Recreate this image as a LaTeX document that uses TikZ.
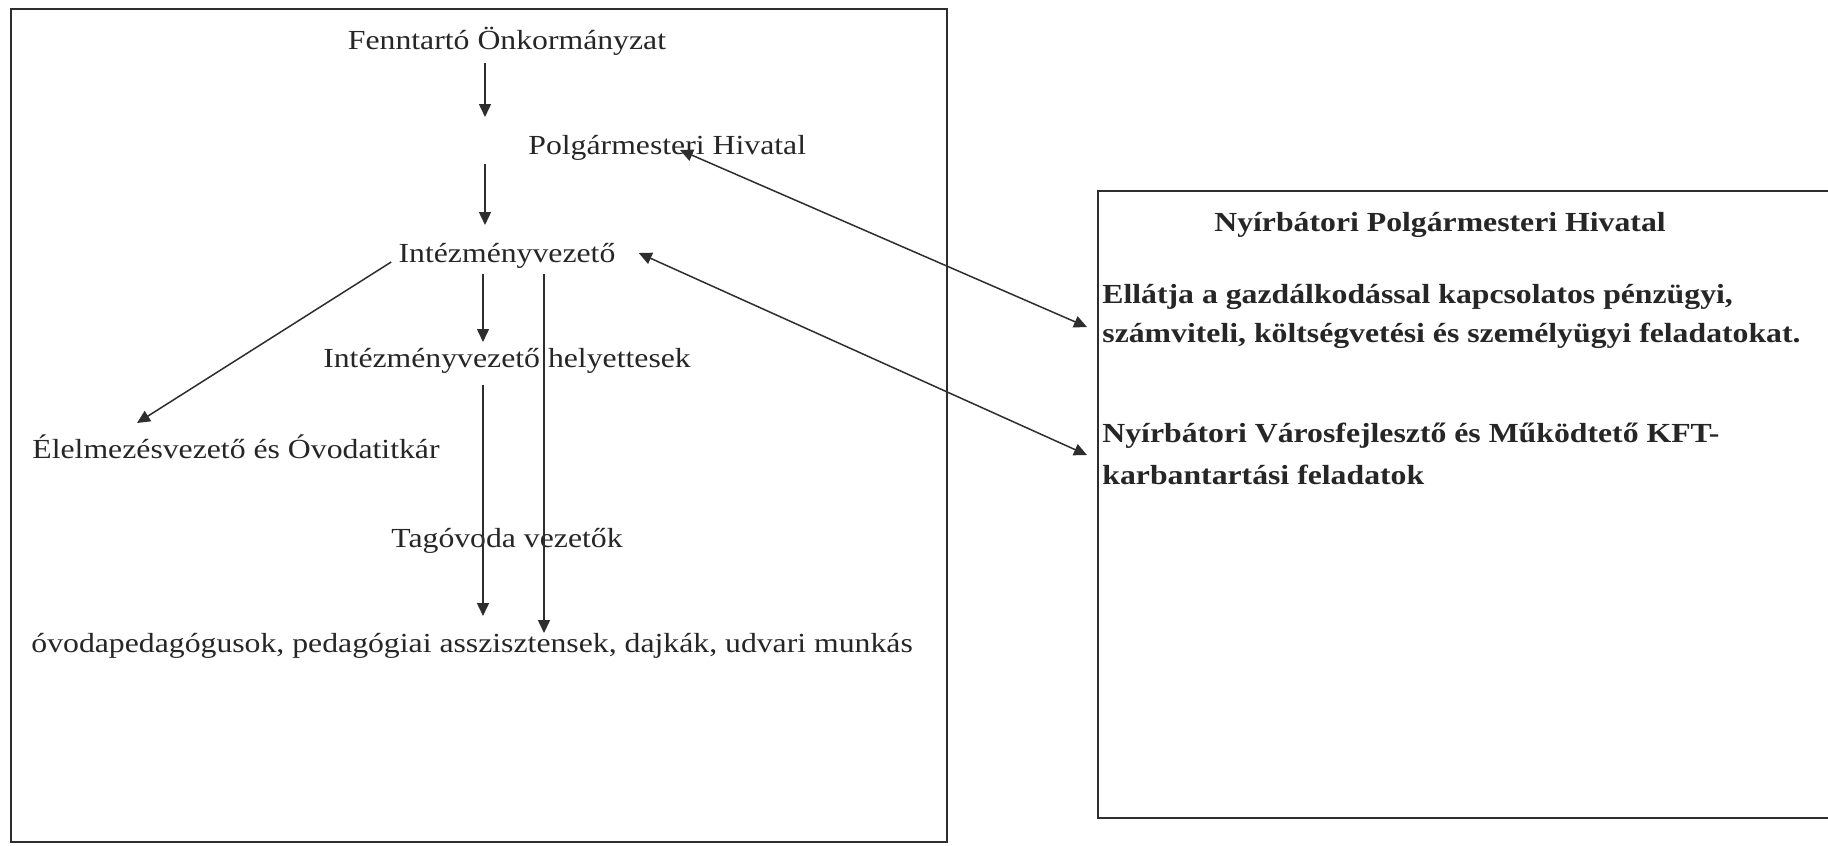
\documentclass[tikz,border=0pt]{standalone}
\usepackage{fontspec}
\setmainfont{Liberation Serif}[FakeStretch=1.15]
\usetikzlibrary{arrows.meta,calc}
\definecolor{ink}{HTML}{262626}
\definecolor{linec}{HTML}{2E2E2E}
\tikzset{
  txt/.style={inner sep=0pt, anchor=base, text=ink, font=\fontsize{13.8}{17}\selectfont},
  txtl/.style={txt, anchor=base west},
  btxt/.style={txtl, font=\fontsize{13.8}{17}\selectfont\bfseries},
  arr/.style={draw=linec, line width=0.75pt, -{Triangle[length=6.5pt,width=6pt]}},
  darr/.style={draw=linec, line width=0.75pt, {Triangle[length=6.5pt,width=6pt]}-{Triangle[length=6.5pt,width=6pt]}},
  boxline/.style={draw=linec, line width=1pt}
}
\begin{document}
\begin{tikzpicture}[x=0.5pt,y=-0.5pt]
\useasboundingbox[fill=white] (0,0) rectangle (1828,846);
% frames
\draw[boxline] (11,9) rectangle (947,842);
\draw[boxline] (1828,191) -- (1098,191) -- (1098,818) -- (1828,818);
% left side nodes
\node[txt] (fenn) at (507,49) {Fenntartó Önkormányzat};
\node[txtl] (polg) at (528,154) {Polgármesteri Hivatal};
\node[txt] (intez) at (507,262) {Intézményvezető};
\node[txt] (helyet) at (507,367) {Intézményvezető helyettesek};
\node[txtl] (elel) at (32,458) {Élelmezésvezető és Óvodatitkár};
\node[txt] (tag) at (507,547) {Tagóvoda vezetők};
\node[txtl] (ovoda) at (31,652) {óvodapedagógusok, pedagógiai asszisztensek, dajkák, udvari munkás};
% right box nodes
\node[txt, font=\fontsize{13.8}{17}\selectfont\bfseries] (title) at (1440,231) {Nyírbátori Polgármesteri Hivatal};
\node[btxt] (l1) at (1102,303) {Ellátja a gazdálkodással kapcsolatos pénzügyi,};
\node[btxt] (l2) at (1102,342) {számviteli, költségvetési és személyügyi feladatokat.};
\node[btxt] (l3) at (1102,442) {Nyírbátori Városfejlesztő és Működtető KFT-};
\node[btxt] (l4) at (1102,484) {karbantartási feladatok};
% columns for vertical connectors
\coordinate (cA) at (485,0);
\coordinate (cB) at (483,0);
\coordinate (cC) at (544,0);
% vertical arrows
\draw[arr] ($(fenn.base -| cA)+(0,14)$) -- ($(polg.base -| cA)+(0,-37)$);
\draw[arr] ($(polg.base -| cA)+(0,10)$) -- ($(intez.base -| cA)+(0,-37)$);
\draw[arr] ($(intez.base -| cB)+(0,12)$) -- ($(helyet.base -| cB)+(0,-25)$);
\draw[arr] ($(helyet.base -| cB)+(0,18)$) -- ($(ovoda.base -| cB)+(0,-36)$);
\draw[arr] ($(intez.base -| cC)+(0,12)$) -- ($(ovoda.base -| cC)+(0,-19)$);
% diagonal
\draw[arr] ($(intez.base west)+(-7,0)$) -- ($(elel.base west)+(105,-35)$);
% double arrows to the right box
\draw[darr] ($(polg.base west)+(152,-4)$) -- ($(l2.base west)+(-15,-15)$);
\draw[darr] ($(intez.base east)+(23,-9)$) -- ($(l4.base west)+(-15,-29)$);
\end{tikzpicture}
\end{document}
